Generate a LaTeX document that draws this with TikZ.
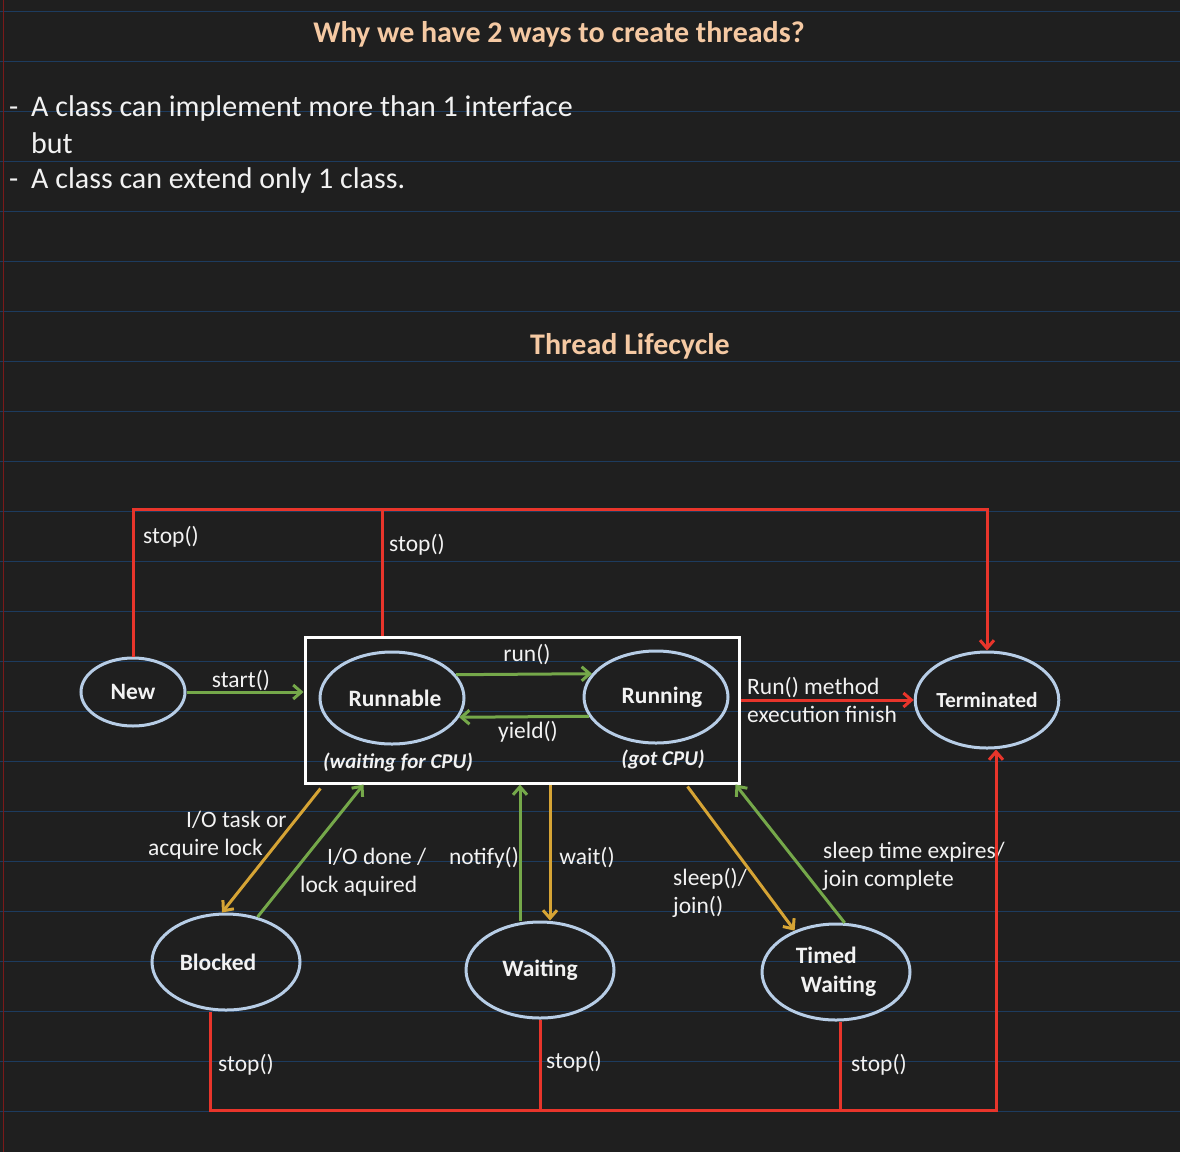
\documentclass[tikz,border=0pt]{standalone}
\usepackage{fontspec}
\setmainfont{Carlito}
\usetikzlibrary{arrows.meta,shapes.geometric}
\definecolor{bg}{HTML}{1F1F1F}
\definecolor{ruleblue}{HTML}{1D3B5E}
\definecolor{marginred}{HTML}{7A1A1A}
\definecolor{peach}{HTML}{F5C9A3}
\definecolor{ell}{HTML}{B7CDE6}
\definecolor{grn}{HTML}{75A84A}
\definecolor{org}{HTML}{D6A435}
\definecolor{rd}{HTML}{E8352B}
\definecolor{txt}{HTML}{F2F2F2}
\begin{document}
\begin{tikzpicture}[x=1pt,y=-1pt,
  state/.style={ellipse, draw=ell, line width=3pt, inner sep=0pt, text=txt,
    font=\bfseries\fontsize{23.5}{29}\selectfont, align=center},
  lbl/.style={text=txt, font=\fontsize{23.5}{28}\selectfont, inner sep=0pt, align=left},
  cpu/.style={text=txt, font=\bfseries\itshape\fontsize{21}{25}\selectfont, inner sep=0pt},
  body/.style={text=txt, font=\fontsize{30}{36}\selectfont, inner sep=0pt, anchor=west},
  heading/.style={text=peach, font=\bfseries\fontsize{30}{36}\selectfont, inner sep=0pt},
  conn/.style={line width=3pt, -{Straight Barb[length=8pt,width=14pt]}},
  gconn/.style={conn, draw=grn},
  oconn/.style={conn, draw=org},
  rline/.style={draw=rd, line width=3pt},
  rtip/.style={-{Straight Barb[length=8pt,width=14pt]}},
]
\fill[bg] (0,0) rectangle (1180,1152);
\useasboundingbox (0,0) rectangle (1180,1152);
\foreach \k in {0,...,22} \draw[ruleblue, line width=1pt] (0,11+50*\k) -- (1180,11+50*\k);
\draw[marginred, line width=1.2pt] (3.5,0) -- (3.5,1152);

% texts at top
\node[heading] (title) at (559,34) {Why we have 2 ways to create threads?};
\node[body] (b1) at (9,108) {\makebox[22pt][l]{-}A class can implement more than 1 interface};
\node[body] (b2) at (31,143) {but};
\node[body] (b3) at (9,180) {\makebox[22pt][l]{-}A class can extend only 1 class.};
\node[heading] (title2) at (630,346) {Thread Lifecycle};

% states
\node[state, minimum width=104pt, minimum height=68pt] (new) at (133,692) {New};
\node[draw=white, line width=3pt, minimum width=434pt, minimum height=146pt, inner sep=0pt] (box) at (522,710) {};
\node[state, minimum width=144pt, minimum height=92pt] (runnable) at (392,698) {\hspace*{6pt}Runnable};
\node[state, minimum width=144pt, minimum height=92pt] (running) at (656,697) {\hspace*{12pt}Running};
\node[state, minimum width=140pt, minimum height=96pt, font=\bfseries\fontsize{21.5}{26}\selectfont] (terminated) at (987,700) {Terminated};
\node[state, minimum width=148pt, minimum height=96pt] (blocked) at (226,962) {\hspace*{-16pt}Blocked};
\node[state, minimum width=148pt, minimum height=96pt] (waiting) at (540,970) {Waiting};
\node[state, minimum width=148pt, minimum height=96pt, align=left] (timed) at (836,972) {Timed\\\hspace*{5pt}Waiting};

\node[cpu] (wcpu) at (398,762) {(waiting for CPU)};
\node[cpu] (gcpu) at (663,759) {(got CPU)};

% green / orange transitions
\draw[gconn] (new.east) -- (new.east -| box.west);
\node[lbl] (lstart) at (241,681) {start()};
\draw[gconn] (runnable.20) -- (running.160);
\node[lbl] (lrun) at (527,655) {run()};
\draw[gconn] (running.196) -- (runnable.-16);
\node[lbl] (lyield) at (528,732) {yield()};

\draw[oconn] ([xshift=17pt,yshift=-4pt]box.south west) -- ([xshift=-4pt]blocked.north);
\node[lbl, anchor=west] (lio) at (148,835) {\hspace*{38pt}I/O task or\\acquire lock};
\draw[gconn] (blocked.55) -- ([xshift=60pt]box.south west);
\node[lbl, anchor=west] (liodone) at (300,872) {\hspace*{27pt}I/O done /\\lock aquired};

\coordinate (nt) at ([xshift=-20pt]waiting.north);
\coordinate (wt) at ([xshift=10pt]waiting.north);
\draw[gconn] (nt) -- (nt |- box.south);
\node[lbl] (lnotify) at (484,858) {notify()};
\draw[oconn] (wt |- box.south) -- (wt);
\node[lbl] (lwait) at (587,858) {wait()};

\draw[oconn] ([xshift=-53pt,yshift=-2pt]box.south east) -- (timed.135);
\node[lbl, anchor=west] (lsleep) at (673,893) {sleep()/\\join()};
\draw[gconn] (timed.80) -- ([xshift=-5pt]box.south east);
\node[lbl, anchor=west] (lexp) at (823,866) {sleep time expires/\\join complete};

% red lines
\coordinate (topbar) at (0,509);
\coordinate (botbar) at (0,1110);
\coordinate (bs) at ([xshift=-140pt]box.north);
\draw[rline, rtip] (new.north) -- (new.north |- topbar) -- (terminated.north |- topbar) -- (terminated.north);
\draw[rline] (bs) -- (bs |- topbar);
\node[lbl, anchor=west] (ls1) at (143,537) {stop()};
\node[lbl, anchor=west] (ls2) at (389,545) {stop()};

\draw[rline, rtip] (terminated.west -| box.east) -- (terminated.west);
\node[lbl, anchor=west] (lfin) at (747,700) {Run() method\\execution finish};

\coordinate (bb) at ([xshift=-16pt]blocked.south);
\coordinate (tb) at ([xshift=4pt]timed.south);
\coordinate (te) at ([xshift=9pt]terminated.south);
\draw[rline, rtip] (bb) -- (bb |- botbar) -- (te |- botbar) -- (te);
\draw[rline] (waiting.south) -- (waiting.south |- botbar);
\draw[rline] (tb) -- (tb |- botbar);
\node[lbl, anchor=west] (ls3) at (218,1065) {stop()};
\node[lbl, anchor=west] (ls4) at (546,1062) {stop()};
\node[lbl, anchor=west] (ls5) at (851,1065) {stop()};
\end{tikzpicture}
\end{document}
